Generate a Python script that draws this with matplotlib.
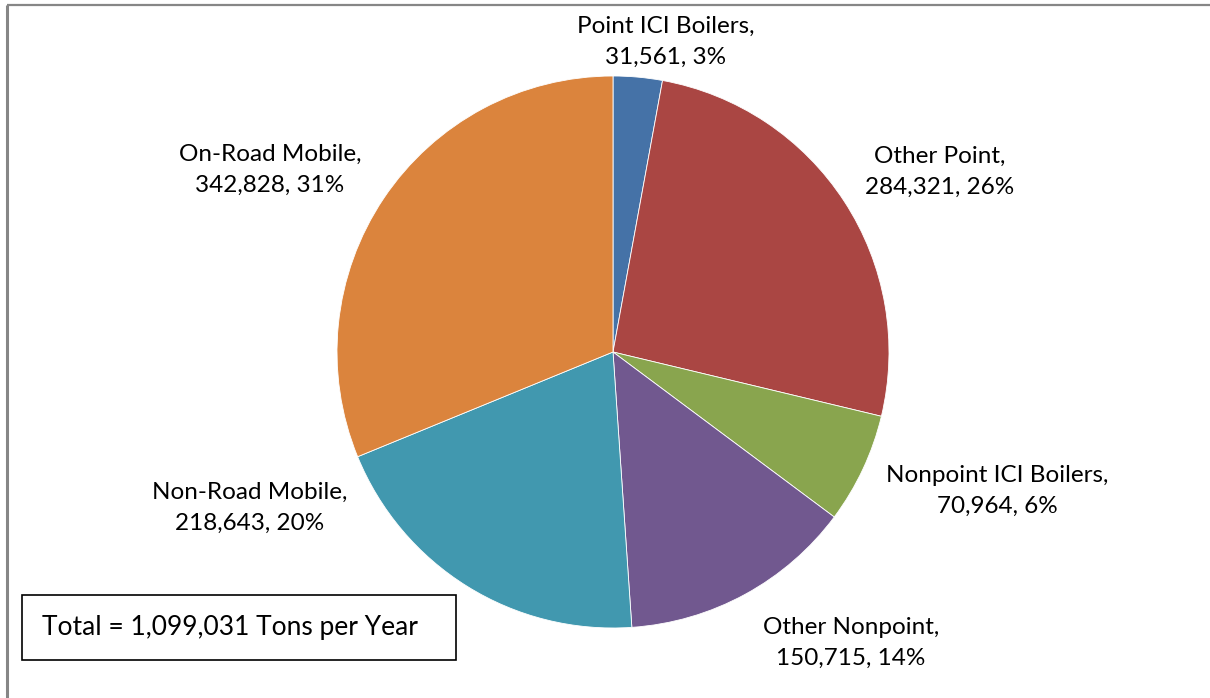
import matplotlib.pyplot as plt
from matplotlib.patches import Rectangle, Wedge

categories = ["Point ICI Boilers", "Other Point", "Nonpoint ICI Boilers",
              "Other Nonpoint", "Non-Road Mobile", "On-Road Mobile"]
tons = [31561, 284321, 70964, 150715, 218643, 342828]
total_text = "Total = 1,099,031 Tons per Year"

colors = ["#4572A7", "#AA4643", "#89A54E", "#71588F", "#4198AF", "#DB843D"]
# label centres in pixel space (layout only)
label_pos = [(666, 42), (940, 172), (997, 491), (851, 643), (250, 508), (270, 170)]

plt.rcParams["font.family"] = ["Lato", "DejaVu Sans"]

fig = plt.figure(figsize=(12.1, 6.98), dpi=100)
ax = fig.add_axes([0, 0, 1, 1])

# pie drawn in a y-down pixel frame, clockwise from 12 o'clock
total = sum(tons)
theta = 90.0
for v, c in zip(tons, colors):
    sweep = 360.0 * v / total
    ax.add_patch(Wedge((613, 352), 276, -theta, -(theta - sweep),
                       facecolor=c, edgecolor="white", linewidth=0.6))
    theta -= sweep

ax.set_xlim(0, 1210)
ax.set_ylim(698, 0)
ax.set_aspect("equal")
ax.axis("off")

for name, v, (x, y) in zip(categories, tons, label_pos):
    pct = round(100 * v / total)
    ax.text(x, y, f"{name},\n{v:,}, {pct}%", ha="center", va="center",
            fontsize=17.5, linespacing=1.55, color="black")

ax.add_patch(Rectangle((22, 595), 434, 65, facecolor="white",
                       edgecolor="black", linewidth=1.2))
ax.text(42, 627, total_text, ha="left", va="center", fontsize=19)

# chart frame (left and top edges visible)
ax.plot([6.5, 6.5], [698, 4.5], color="#868686", linewidth=2.2, solid_capstyle="butt")
ax.plot([6.5, 1210], [4.5, 4.5], color="#868686", linewidth=1.6, solid_capstyle="butt")

fig.savefig("out.png", dpi=100)
